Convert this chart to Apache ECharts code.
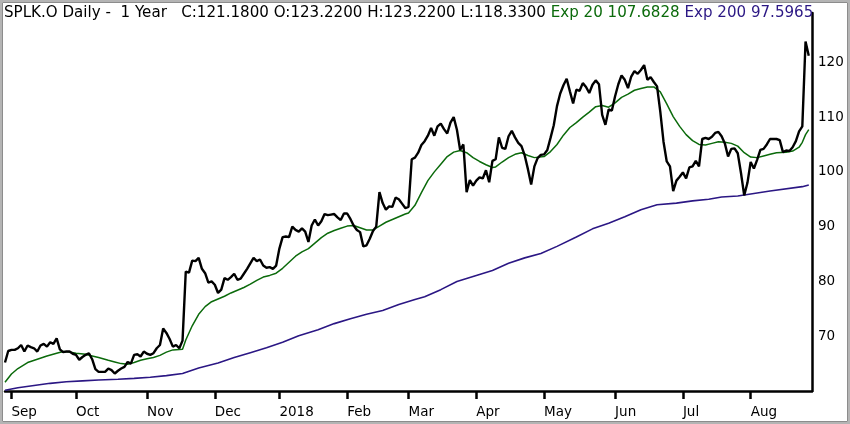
<!DOCTYPE html>
<html>
<head>
<meta charset="utf-8">
<script src="https://cdn.jsdelivr.net/npm/echarts@6/dist/echarts.min.js"></script>
<style>
  html, body { margin: 0; padding: 0; background: #fff; }
  #chart { width: 850px; height: 424px; }
</style>
</head>
<body>
<div id="chart"></div>
<script>
// trading calendar (US market holidays skipped)
const startDay = "2017-08-30";
const endDay = "2018-08-27";
const holidays = ["2017-09-04", "2017-11-23", "2017-12-25", "2018-01-01", "2018-01-15",
  "2018-02-19", "2018-03-30", "2018-05-28", "2018-07-04"];
const monthNames = ["Jan", "Feb", "Mar", "Apr", "May", "Jun", "Jul", "Aug", "Sep", "Oct", "Nov", "Dec"];

// daily close
const closeValues = [
  65.2, 67.3, 67.5, 67.5, 67.8, 68.4, 67.2, 68.3, 68.0, 67.8,
  67.2, 68.3, 68.6, 68.1, 68.9, 68.6, 69.6, 67.6, 67.1, 67.2,
  67.2, 66.8, 66.6, 65.7, 66.2, 66.6, 66.9, 65.8, 64.0, 63.5,
  63.5, 63.5, 64.1, 63.8, 63.2, 63.7, 64.1, 64.4, 65.3, 65.0,
  66.6, 66.7, 66.3, 67.2, 66.8, 66.6, 66.9, 67.8, 68.4, 71.4,
  70.6, 69.5, 68.1, 68.4, 67.8, 69.2, 81.8, 81.6, 83.8, 83.7,
  84.3, 82.3, 81.5, 79.8, 80.0, 79.4, 77.9, 78.5, 80.6, 80.3,
  80.8, 81.4, 80.3, 80.5, 81.4, 82.3, 83.3, 84.3, 83.7, 84.0,
  82.9, 82.5, 82.6, 82.3, 82.9, 86.0, 88.1, 88.2, 88.1, 90.0,
  89.4, 89.1, 89.7, 89.1, 87.2, 90.2, 91.3, 90.2, 91.0, 92.3,
  92.1, 92.2, 92.3, 91.7, 91.2, 92.4, 92.4, 91.4, 90.2, 89.4,
  89.0, 86.4, 86.6, 87.8, 89.2, 90.0, 96.3, 94.3, 93.1, 93.7,
  93.6, 95.3, 95.0, 94.2, 93.4, 93.6, 102.3, 102.6, 103.5, 104.9,
  105.6, 106.6, 108.0, 106.6, 108.3, 108.8, 107.8, 107.0, 109.0, 110.0,
  107.7, 104.0, 105.0, 96.3, 98.5, 97.5, 98.4, 99.0, 98.8, 100.3,
  98.1, 102.0, 102.3, 106.3, 104.4, 104.2, 106.5, 107.5, 106.3, 105.3,
  104.7, 103.0, 100.5, 97.7, 101.0, 102.5, 103.1, 103.2, 104.0, 106.2,
  108.5, 112.0, 114.3, 115.8, 117.0, 114.7, 112.5, 115.0, 114.8, 116.2,
  115.5, 114.4, 115.9, 116.7, 116.0, 110.4, 108.6, 111.4, 111.2, 113.8,
  116.0, 117.6, 116.8, 115.3, 117.4, 118.4, 117.9, 118.6, 119.5, 116.8,
  117.3, 116.4, 115.6, 111.0, 105.5, 101.9, 101.0, 96.5, 98.4, 99.1,
  99.9, 98.8, 100.8, 101.0, 102.0, 101.0, 106.0, 106.2, 106.0, 106.4,
  107.1, 107.3, 106.5, 105.2, 102.8, 104.2, 104.3, 103.4, 99.8, 95.7,
  98.0, 101.8, 100.6, 102.2, 104.0, 104.2, 105.0, 106.0, 106.0, 106.0,
  105.8, 103.6, 103.9, 103.8, 104.5, 105.6, 107.4, 108.3, 123.8, 121.2
];

// Exp 20 readings (trading-day index, value)
const ema20Idx = [0, 2, 4, 7, 10, 13, 16, 18, 20, 22, 25, 27, 29, 32, 34, 36, 38, 40, 42, 44,
  46, 48, 50, 52, 55, 56, 58, 60, 62, 64, 66, 68, 70, 72, 74, 76, 78, 80, 82, 84,
  86, 88, 90, 92, 94, 96, 98, 100, 102, 104, 106, 108, 110, 112, 114, 116, 118, 120, 122, 124,
  125, 127, 129, 131, 133, 135, 137, 139, 141, 143, 145, 147, 149, 151, 152, 154, 156, 158, 160, 162,
  164, 167, 169, 171, 173, 175, 177, 179, 181, 183, 185, 187, 189, 191, 193, 195, 197, 199, 201, 203,
  205, 207, 209, 211, 213, 215, 217, 219, 221, 223, 225, 227, 229, 231, 233, 235, 237, 239, 242, 244,
  246, 247, 248, 249];
const ema20Val = [61.6, 63.1, 64.1, 65.2, 65.8, 66.4, 66.9, 67.2, 67.1, 66.9, 66.7, 66.4, 66.1, 65.6, 65.3, 65.0, 64.9, 65.2, 65.6, 65.9,
  66.1, 66.5, 67.1, 67.5, 67.6, 69.3, 71.9, 74.0, 75.4, 76.3, 76.8, 77.3, 77.9, 78.4, 78.9, 79.5, 80.2, 80.8, 81.1, 81.5,
  82.4, 83.5, 84.6, 85.4, 86.0, 87.0, 88.0, 88.8, 89.3, 89.7, 90.1, 90.2, 89.8, 89.4, 89.4, 90.1, 90.8, 91.3, 91.8, 92.3,
  92.5, 93.9, 96.2, 98.4, 100.0, 101.4, 102.8, 103.6, 103.9, 103.5, 102.6, 101.9, 101.3, 100.8, 100.9, 101.8, 102.6, 103.2, 103.5, 103.0,
  102.6, 102.8, 103.7, 105.0, 106.7, 108.1, 109.0, 110.0, 110.9, 111.9, 112.1, 111.8, 112.6, 113.6, 114.2, 114.9, 115.2, 115.5, 115.5, 114.6,
  112.4, 110.1, 108.3, 106.8, 105.7, 105.0, 104.9, 105.2, 105.5, 105.4, 105.2, 104.7, 103.5, 102.7, 102.6, 102.9, 103.2, 103.5, 103.6, 103.8,
  104.5, 105.4, 106.8, 107.7];

// Exp 200 readings (trading-day index, value)
const ema200Idx = [0, 4, 9, 14, 19, 24, 29, 35, 40, 45, 50, 55, 60, 66, 71, 76, 81, 86, 91, 97,
  102, 107, 112, 117, 122, 127, 130, 135, 140, 146, 151, 156, 161, 166, 171, 177, 182, 187, 192, 197,
  202, 208, 213, 218, 222, 227, 237, 247, 249];
const ema200Val = [60.15, 60.6, 61.0, 61.4, 61.7, 61.85, 62.0, 62.15, 62.3, 62.5, 62.8, 63.2, 64.2, 65.1, 66.1, 67.0, 67.9, 68.9, 70.1, 71.2,
  72.3, 73.2, 74.0, 74.7, 75.8, 76.7, 77.2, 78.5, 80.0, 81.1, 82.0, 83.3, 84.3, 85.1, 86.4, 88.1, 89.6, 90.6, 91.8, 93.1,
  94.0, 94.3, 94.7, 95.0, 95.4, 95.6, 96.5, 97.3, 97.6];

const headText = "SPLK.O Daily -  1 Year   C:121.1800 O:123.2200 H:123.2200 L:118.3300 ";
const ema20Text = "Exp 20 107.6828 ";
const ema200Text = "Exp 200 97.5965";

const closeColor = "#000000";
const ema20Color = "#0b6a0b";
const ema200Color = "#2b1784";

function tradingDays(from, to) {
  const out = [];
  const d = new Date(from + "T00:00:00Z");
  const last = new Date(to + "T00:00:00Z");
  while (d <= last) {
    const key = d.toISOString().slice(0, 10);
    const wd = d.getUTCDay();
    if (wd !== 0 && wd !== 6 && holidays.indexOf(key) < 0) out.push(key);
    d.setUTCDate(d.getUTCDate() + 1);
  }
  return out;
}

const dates = tradingDays(startDay, endDay);
// one empty slot so the last close sits just left of the price axis
const categories = dates.concat([""]);

function isMonthStart(idx) {
  if (idx <= 0 || idx >= dates.length) return false;
  return dates[idx].slice(5, 7) !== dates[idx - 1].slice(5, 7);
}

function monthLabel(value) {
  if (!value) return "";
  const m = parseInt(value.slice(5, 7), 10);
  return m === 1 ? value.slice(0, 4) : monthNames[m - 1];
}

const pairs = (idx, vals) => idx.map((x, k) => [x, vals[k]]);

const chart = echarts.init(document.getElementById("chart"), null, { renderer: "canvas" });

chart.setOption({
  animation: false,
  backgroundColor: "#ffffff",
  title: {
    text: "{b|" + headText + "}{g|" + ema20Text + "}{n|" + ema200Text + "}",
    left: 4,
    top: 6,
    padding: 0,
    textStyle: {
      fontFamily: "DejaVu Sans",
      fontSize: 15.1,
      fontWeight: "normal",
      rich: {
        b: { color: "#000", fontFamily: "DejaVu Sans", fontSize: 15.1 },
        g: { color: ema20Color, fontFamily: "DejaVu Sans", fontSize: 15.1 },
        n: { color: ema200Color, fontFamily: "DejaVu Sans", fontSize: 15.1 }
      }
    }
  },
  graphic: [
    {
      type: "rect",
      silent: true,
      shape: { x: 1, y: 1, width: 848, height: 422 },
      style: { fill: null, stroke: "#b4b4b4", lineWidth: 2 }
    },
    {
      type: "rect",
      silent: true,
      shape: { x: 2.5, y: 2.5, width: 845, height: 419 },
      style: { fill: null, stroke: "#8c8c8c", lineWidth: 1 }
    }
  ],
  grid: { left: 5, right: 38, top: 13, bottom: 33, containLabel: false },
  xAxis: {
    type: "category",
    data: categories,
    boundaryGap: false,
    axisLine: { show: true, lineStyle: { color: "#000", width: 2.5 } },
    axisTick: {
      show: true,
      length: 8,
      interval: (idx) => isMonthStart(idx),
      lineStyle: { color: "#000", width: 2.5 }
    },
    axisLabel: {
      interval: (idx) => isMonthStart(idx),
      formatter: monthLabel,
      align: "left",
      margin: 14,
      color: "#000",
      fontFamily: "DejaVu Sans",
      fontSize: 13.5
    },
    splitLine: { show: false }
  },
  yAxis: {
    type: "value",
    position: "right",
    min: 60,
    max: 129,
    interval: 10,
    axisLine: { show: true, lineStyle: { color: "#000", width: 2.5 } },
    axisTick: { show: false },
    axisLabel: {
      margin: 6,
      color: "#000",
      fontFamily: "DejaVu Sans",
      fontSize: 13.5,
      formatter: (v) => (v >= 70 && v <= 120 && v % 10 === 0 ? String(v) : "")
    },
    splitLine: { show: false }
  },
  series: [
    {
      name: "Exp 200",
      type: "line",
      data: pairs(ema200Idx, ema200Val),
      showSymbol: false,
      lineStyle: { color: ema200Color, width: 1.6 },
      z: 2
    },
    {
      name: "Exp 20",
      type: "line",
      data: pairs(ema20Idx, ema20Val),
      showSymbol: false,
      lineStyle: { color: ema20Color, width: 1.5 },
      z: 3
    },
    {
      name: "Close",
      type: "line",
      data: closeValues,
      showSymbol: false,
      lineStyle: { color: closeColor, width: 2.4 },
      z: 4
    }
  ]
});
</script>
</body>
</html>
